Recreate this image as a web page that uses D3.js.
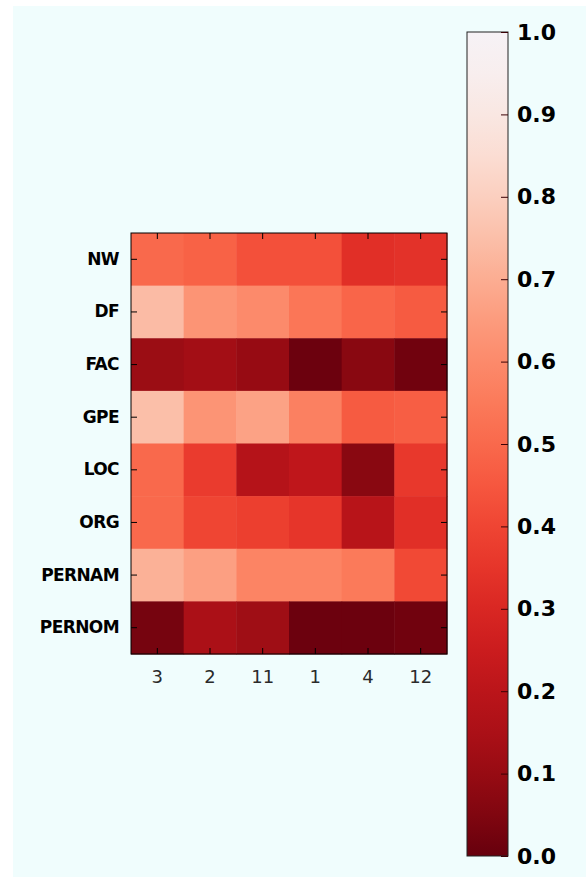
<!DOCTYPE html>
<html>
<head>
<meta charset="utf-8">
<style>
  body { margin: 0; background: #ffffff; }
  text { font-family: "DejaVu Sans", sans-serif; }
</style>
</head>
<body>
<svg id="mysvg"></svg>
<script src="https://cdn.jsdelivr.net/npm/d3@7/dist/d3.min.js"></script>
<script>

var rows = ["NW", "DF", "FAC", "GPE", "LOC", "ORG", "PERNAM", "PERNOM"];
var cols = ["3", "2", "11", "1", "4", "12"];

// one array per row, values in column order
var nw     = [0.50, 0.48, 0.43, 0.43, 0.33, 0.34];
var df     = [0.74, 0.63, 0.60, 0.54, 0.49, 0.46];
var fac    = [0.11, 0.13, 0.10, 0.01, 0.07, 0.02];
var gpe    = [0.75, 0.63, 0.67, 0.57, 0.46, 0.47];
var loc    = [0.50, 0.37, 0.18, 0.21, 0.07, 0.36];
var org    = [0.50, 0.40, 0.38, 0.35, 0.19, 0.33];
var pernam = [0.71, 0.66, 0.58, 0.58, 0.55, 0.41];
var pernom = [0.03, 0.15, 0.12, 0.01, 0.01, 0.02];

var values = [nw, df, fac, gpe, loc, org, pernam, pernom];
var cbTicks = [0.0, 0.1, 0.2, 0.3, 0.4, 0.5, 0.6, 0.7, 0.8, 0.9, 1.0];

var W = 586, H = 877;

var svg = d3.select("#mysvg")
  .attr("width", W)
  .attr("height", H);

// pale background of the figure
svg.append("rect")
  .attr("x", 13).attr("y", 6)
  .attr("width", W - 13).attr("height", H - 6)
  .attr("fill", "#f0fdfd");

// reversed Reds, light end pulled a little toward the bluish white of the picture
var reds = function(v) { return d3.interpolateReds(1 - v); };
var color = function(v) {
  var w = Math.max(0, (v - 0.6) / 0.4);
  return d3.interpolateRgb(reds(v), "#f0f0fa")(w * w * 0.6);
};

// heatmap
var hm = { left: 131, right: 447, top: 233, bottom: 654 };

var xScale = d3.scaleBand().domain(cols).range([hm.left, hm.right]);
var yScale = d3.scaleBand().domain(rows).range([hm.top, hm.bottom]);

var cells = [];
values.forEach(function(r, i) {
  r.forEach(function(v, j) {
    cells.push({ row: rows[i], col: cols[j], v: v });
  });
});

svg.append("g").selectAll("rect")
  .data(cells)
  .enter().append("rect")
  .attr("x", function(d) { return xScale(d.col); })
  .attr("y", function(d) { return yScale(d.row); })
  .attr("width", xScale.bandwidth() + 0.5)
  .attr("height", yScale.bandwidth() + 0.5)
  .attr("fill", function(d) { return color(d.v); });

// axes with inward ticks on every side
var tickLen = 6;
svg.append("g")
  .attr("transform", "translate(0," + hm.bottom + ")")
  .call(d3.axisBottom(xScale).tickSizeInner(-tickLen).tickSizeOuter(0).tickPadding(tickLen + 10))
  .call(function(g) {
    g.select(".domain").remove();
    g.selectAll("text").attr("font-size", 18).attr("fill", "#2a2a2a")
      .attr("font-family", "DejaVu Sans");
  });

svg.append("g")
  .attr("transform", "translate(0," + hm.top + ")")
  .call(d3.axisTop(xScale).tickSizeInner(-tickLen).tickSizeOuter(0).tickFormat(""))
  .call(function(g) { g.select(".domain").remove(); });

svg.append("g")
  .attr("transform", "translate(" + hm.left + ",0)")
  .call(d3.axisLeft(yScale).tickSizeInner(-tickLen).tickSizeOuter(0).tickPadding(tickLen + 6))
  .call(function(g) {
    g.select(".domain").remove();
    g.selectAll("text").attr("font-size", 17).attr("font-weight", "bold")
      .attr("fill", "#000").attr("font-family", "DejaVu Sans")
      .attr("letter-spacing", -0.6);
  });

svg.append("g")
  .attr("transform", "translate(" + hm.right + ",0)")
  .call(d3.axisRight(yScale).tickSizeInner(-tickLen).tickSizeOuter(0).tickFormat(""))
  .call(function(g) { g.select(".domain").remove(); });

svg.append("rect")
  .attr("x", hm.left).attr("y", hm.top)
  .attr("width", hm.right - hm.left).attr("height", hm.bottom - hm.top)
  .attr("fill", "none").attr("stroke", "#000").attr("stroke-width", 1);

// colorbar
var cb = { left: 467, right: 508, top: 32, bottom: 856 };
var cScale = d3.scaleLinear().domain([0, 1]).range([cb.bottom, cb.top]);

var grad = svg.append("defs").append("linearGradient")
  .attr("id", "cbgrad")
  .attr("x1", 0).attr("y1", 1).attr("x2", 0).attr("y2", 0);
d3.range(0, 1.0001, 0.05).forEach(function(t) {
  grad.append("stop").attr("offset", t).attr("stop-color", color(t));
});

svg.append("rect")
  .attr("x", cb.left).attr("y", cb.top)
  .attr("width", cb.right - cb.left).attr("height", cb.bottom - cb.top)
  .attr("fill", "url(#cbgrad)")
  .attr("stroke", "#222").attr("stroke-width", 1);

svg.append("g")
  .attr("transform", "translate(" + cb.right + ",0)")
  .call(d3.axisRight(cScale).tickValues(cbTicks).tickFormat(d3.format(".1f"))
    .tickSizeInner(-7).tickSizeOuter(0).tickPadding(9))
  .call(function(g) {
    g.select(".domain").remove();
    g.selectAll("line").attr("stroke", "#3a0005");
    g.selectAll("text").attr("font-size", 22).attr("font-weight", "bold")
      .attr("fill", "#000").attr("font-family", "DejaVu Sans");
  });

</script>
</body>
</html>
